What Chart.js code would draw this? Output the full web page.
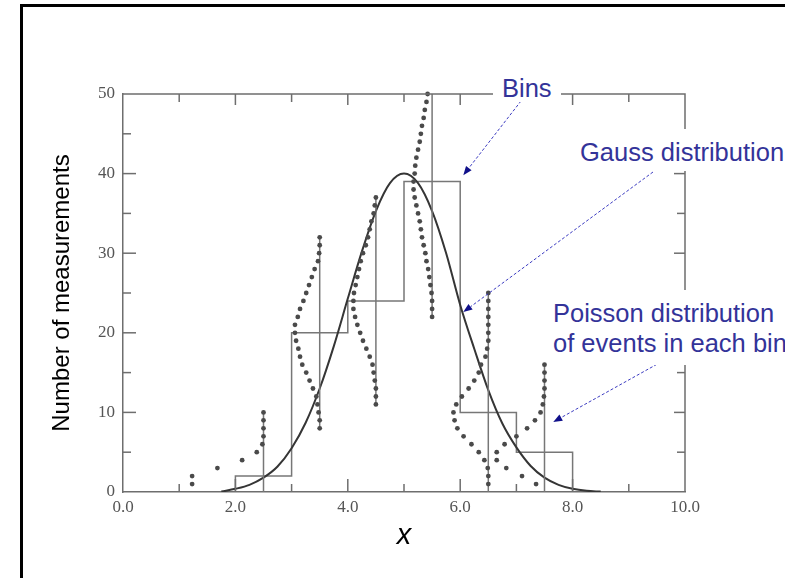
<!DOCTYPE html>
<html>
<head>
<meta charset="utf-8">
<script src="https://cdn.jsdelivr.net/npm/chart.js@4/dist/chart.umd.min.js"></script>
<style>
  html, body { margin: 0; padding: 0; background: #fff; overflow: hidden; }
  #wrap { position: relative; width: 785px; height: 578px; overflow: hidden; background: #fff; }
  #c { position: absolute; left: 0; top: 0; }
  .frame { position: absolute; left: 20px; top: 4px; width: 900px; height: 700px;
           border-left: 3px solid #000; border-top: 3px solid #000; pointer-events: none; }
  .note { position: absolute; font-family: "Liberation Sans", Arial, sans-serif; font-size: 25.5px;
          color: #333399; background: #fff; white-space: nowrap; }
</style>
</head>
<body>
<div id="wrap">
  <canvas id="c" width="785" height="578"></canvas>
  <div class="note" style="left:493px;top:74px;line-height:28px;padding:0 9px;">Bins</div>
  <div class="note" style="left:576px;top:129px;line-height:28px;padding:9px 4px 5px 4px;">Gauss distribution</div>
  <div class="note" style="left:549px;top:290px;line-height:30px;padding:8px 4px 7px 4px;">Poisson distribution<br>of events in each bin</div>
  <div class="frame"></div>
</div>
<script>
// ---------- data ----------
const xTickLabels = ['0.0', '2.0', '4.0', '6.0', '8.0', '10.0'];
const yTickLabels = ['0', '10', '20', '30', '40', '50'];
const xTickMarks = [1, 2, 3, 4, 5, 6, 7, 8, 9];
const yTickMarks = [5, 10, 15, 20, 25, 30, 35, 40, 45];

const binEdges  = [2, 3, 4, 5, 6, 7, 8];
const binCounts = [2, 20, 24, 39, 10, 5];

const gaussX = [1.75, 2.0, 2.25, 2.5, 2.75, 3.0, 3.25, 3.5, 3.75, 4.0, 4.25, 4.5, 4.75, 5.0,
                5.25, 5.5, 5.75, 6.0, 6.25, 6.5, 6.75, 7.0, 7.25, 7.5, 7.75, 8.0, 8.25, 8.5];
const gaussY = [0.05, 0.4, 0.9, 1.8, 3.2, 5.5, 8.7, 13.0, 18.3, 24.3, 30.2, 35.3, 38.8, 40.0,
                38.8, 35.3, 30.0, 23.5, 18.0, 12.8, 8.6, 5.6, 3.3, 1.8, 0.9, 0.4, 0.15, 0.05];

const poissonCenters  = [2.5, 3.5, 4.5, 5.5, 6.5, 7.5];
const poissonAxisLow  = [0, 8, 11, 22, 0, 0];
const poissonAxisHigh = [10, 32, 37, 50, 25, 16];

const poisson1Y = [1, 2, 3, 4, 5, 6, 7, 8, 9, 10];
const poisson1X = [1.23, 1.23, 1.68, 2.12, 2.38, 2.48, 2.5, 2.5, 2.5, 2.5];

const poisson2Y = [8, 9, 10, 11, 12, 13, 14, 15, 16, 17, 18, 19, 20, 21, 22, 23, 24, 25, 26, 27, 28, 29, 30, 31, 32];
const poisson2X = [3.50, 3.50, 3.48, 3.46, 3.44, 3.38, 3.32, 3.26, 3.19, 3.15, 3.12, 3.08, 3.06, 3.06,
                   3.11, 3.15, 3.21, 3.26, 3.31, 3.36, 3.41, 3.47, 3.49, 3.50, 3.50];

const poisson3Y = [11, 12, 13, 14, 15, 16, 17, 18, 19, 20, 21, 22, 23, 24, 25, 26, 27, 28, 29, 30, 31, 32, 33, 34, 35, 36, 37];
const poisson3X = [4.50, 4.50, 4.50, 4.48, 4.46, 4.44, 4.39, 4.33, 4.27, 4.22, 4.17, 4.13, 4.10, 4.10,
                   4.11, 4.14, 4.17, 4.20, 4.23, 4.27, 4.32, 4.36, 4.39, 4.42, 4.46, 4.48, 4.50];

const poisson4Y = [22, 23, 24, 25, 26, 27, 28, 29, 30, 31, 32, 33, 34, 35, 36, 37, 38, 39, 40, 41, 42, 43, 44, 45, 46, 47, 48, 49, 50];
const poisson4X = [5.50, 5.50, 5.50, 5.49, 5.47, 5.45, 5.43, 5.40, 5.38, 5.35, 5.32, 5.30, 5.28, 5.25, 5.22,
                   5.19, 5.17, 5.17, 5.19, 5.20, 5.22, 5.25, 5.28, 5.30, 5.32, 5.35, 5.37, 5.40, 5.42];

const poisson5Y = [1, 2, 3, 4, 5, 6, 7, 8, 9, 10, 11, 12, 13, 14, 15, 16, 17, 18, 19, 20, 21, 22, 23, 24, 25];
const poisson5X = [6.50, 6.50, 6.49, 6.43, 6.33, 6.20, 6.06, 5.95, 5.90, 5.88, 5.93, 6.03, 6.15, 6.25,
                   6.33, 6.37, 6.45, 6.48, 6.50, 6.50, 6.50, 6.50, 6.50, 6.50, 6.50];

const poisson6Y = [1, 2, 3, 4, 5, 6, 7, 8, 9, 10, 11, 12, 13, 14, 15, 16];
const poisson6X = [7.35, 7.10, 6.82, 6.65, 6.65, 6.79, 7.00, 7.19, 7.33, 7.43, 7.47, 7.49, 7.50, 7.50, 7.50, 7.50];

// annotation arrow tips (data units)
const arrowTipX = [6.055, 6.055, 7.656];
const arrowTipY = [39.8, 22.6, 8.8];

// ---------- styling ----------
const axisColor = '#6e6e6e';
const histColor = '#777777';
const gaussColor = '#353535';
const dotColor = '#4a4a4a';
const arrowTails = [[521, 101], [653, 172], [670, 357]];

// ---------- build datasets ----------
const histPoints = [{x: binEdges[0], y: 0}];
binCounts.forEach((c, i) => histPoints.push({x: binEdges[i], y: c}));
histPoints.push({x: binEdges[binEdges.length - 1], y: binCounts[binCounts.length - 1]});
histPoints.push({x: binEdges[binEdges.length - 1], y: 0});

const gaussPoints = gaussX.map((x, i) => ({x, y: gaussY[i]}));

const poissonX = [poisson1X, poisson2X, poisson3X, poisson4X, poisson5X, poisson6X];
const poissonY = [poisson1Y, poisson2Y, poisson3Y, poisson4Y, poisson5Y, poisson6Y];

const datasets = [];
poissonX.forEach((xs, k) => {
  datasets.push({
    type: 'scatter',
    data: xs.map((x, i) => ({x, y: poissonY[k][i]})),
    pointRadius: 2.4,
    pointBackgroundColor: dotColor,
    pointBorderWidth: 0,
    showLine: false,
    clip: false
  });
});
poissonCenters.forEach((c, k) => {
  datasets.push({
    type: 'line',
    data: [{x: c, y: poissonAxisLow[k]}, {x: c, y: poissonAxisHigh[k]}],
    borderColor: histColor,
    borderWidth: 1.5,
    pointRadius: 0,
    fill: false
  });
});
datasets.push({
  type: 'line',
  data: gaussPoints,
  borderColor: gaussColor,
  borderWidth: 2,
  pointRadius: 0,
  cubicInterpolationMode: 'monotone',
  fill: false
});
datasets.push({
  type: 'line',
  data: histPoints,
  stepped: 'before',
  borderColor: histColor,
  borderWidth: 1.5,
  pointRadius: 0,
  fill: false
});

// ---------- plugin: top/right frame, inward ticks, arrows ----------
const framePlugin = {
  id: 'framePlugin',
  afterDatasetsDraw(chart) {
    const {ctx, chartArea: a, scales: {x, y}} = chart;
    ctx.save();
    ctx.strokeStyle = axisColor;
    ctx.lineWidth = 1.5;
    ctx.beginPath();
    ctx.moveTo(a.left, a.top);
    ctx.lineTo(a.right, a.top);
    ctx.lineTo(a.right, a.bottom);
    ctx.stroke();

    const seg = (x1, y1, x2, y2) => { ctx.beginPath(); ctx.moveTo(x1, y1); ctx.lineTo(x2, y2); ctx.stroke(); };
    xTickMarks.forEach(v => {
      const px = x.getPixelForValue(v);
      const major = v % 2 === 0;
      seg(px, a.bottom, px, a.bottom - (major ? 13 : 8));
      seg(px, a.top, px, a.top + (major ? 11 : 8));
    });
    yTickMarks.forEach(v => {
      const py = y.getPixelForValue(v);
      const major = v % 10 === 0;
      seg(a.left, py, a.left + (major ? 13 : 8), py);
      seg(a.right, py, a.right - (major ? 11 : 8), py);
    });

    // arrows
    arrowTails.forEach((t, i) => {
      const tx = x.getPixelForValue(arrowTipX[i]);
      const ty = y.getPixelForValue(arrowTipY[i]);
      const dx = tx - t[0], dy = ty - t[1];
      const len = Math.hypot(dx, dy);
      const ux = dx / len, uy = dy / len;
      const hl = 9, hw = 3.5;
      const bx = tx - ux * hl, by = ty - uy * hl;
      ctx.strokeStyle = '#3b3bc0';
      ctx.lineWidth = 1;
      ctx.setLineDash([3, 2]);
      ctx.beginPath();
      ctx.moveTo(t[0], t[1]);
      ctx.lineTo(bx, by);
      ctx.stroke();
      ctx.setLineDash([]);
      ctx.fillStyle = '#10108a';
      ctx.beginPath();
      ctx.moveTo(tx, ty);
      ctx.lineTo(bx - uy * hw, by + ux * hw);
      ctx.lineTo(bx + uy * hw, by - ux * hw);
      ctx.closePath();
      ctx.fill();
    });
    ctx.restore();
  }
};

new Chart(document.getElementById('c'), {
  type: 'scatter',
  data: { datasets },
  options: {
    responsive: false,
    animation: false,
    events: [],
    layout: { padding: { left: 40, top: 94, right: 100, bottom: 20 } },
    plugins: { legend: { display: false }, tooltip: { enabled: false }, title: { display: false } },
    scales: {
      x: {
        type: 'linear',
        position: 'bottom',
        min: 0, max: 10,
        afterFit: s => { s.height = 66; },
        grid: { display: false, drawTicks: false },
        border: { display: true, color: axisColor, width: 1.5 },
        ticks: {
          stepSize: 2,
          padding: 5,
          color: '#555',
          font: { family: '"Liberation Serif", "Times New Roman", serif', size: 17 },
          callback: (v, i) => xTickLabels[i]
        },
        title: {
          display: true,
          text: 'x',
          color: '#000',
          padding: { top: 0, bottom: 5 },
          font: { family: '"Liberation Sans", Arial, sans-serif', size: 29, style: 'italic' }
        }
      },
      y: {
        type: 'linear',
        position: 'left',
        min: 0, max: 50,
        afterFit: s => { s.width = 83; },
        grid: { display: false, drawTicks: false },
        border: { display: true, color: axisColor, width: 1.5 },
        ticks: {
          stepSize: 10,
          padding: 8,
          color: '#555',
          font: { family: '"Liberation Serif", "Times New Roman", serif', size: 17 },
          callback: (v, i) => yTickLabels[i]
        },
        title: {
          display: true,
          text: 'Number of measurements',
          color: '#000',
          padding: { top: 8, bottom: 0 },
          font: { family: '"Liberation Sans", Arial, sans-serif', size: 24 }
        }
      }
    }
  },
  plugins: [framePlugin]
});
</script>
</body>
</html>
